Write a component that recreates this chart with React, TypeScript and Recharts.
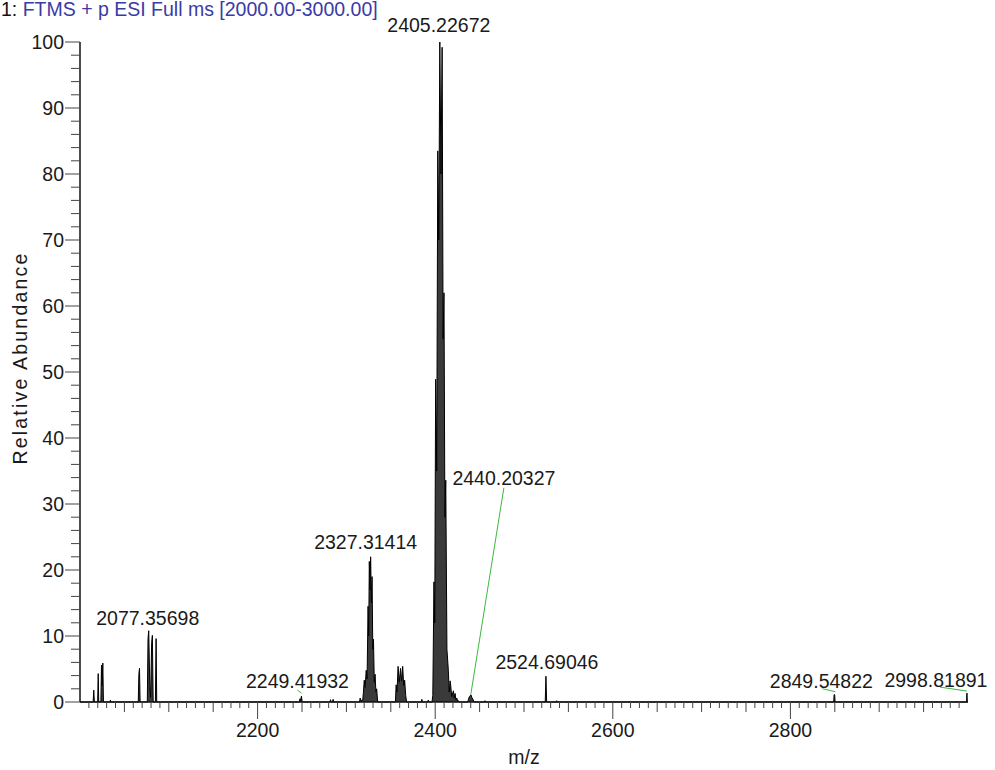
import React from "react";
import { ComposedChart, Area, Scatter, XAxis, YAxis } from "recharts";

// ---- data (m/z, relative abundance) ----
const clusterA_mz = [2000, 2014.8, 2015.5, 2016.2, 2019.9, 2020.5, 2021.1, 2023.5, 2024.2, 2024.9, 2025.7, 2026.4, 2033.8, 2034.3, 2034.8];
const clusterA_int = [0, 0, 1.8, 0, 0, 4.3, 0, 0, 5.6, 2.5, 5.9, 0, 0, 0.3, 0];

const clusterB_mz = [2065.6, 2066.3, 2067.0, 2067.7, 2075.8, 2076.6, 2077.4, 2078.6, 2079.5, 2080.7, 2081.5, 2082.4, 2084.9, 2085.7, 2086.4];
const clusterB_int = [0, 4.2, 5.1, 0, 0, 9.6, 10.8, 2.5, 0.7, 9.0, 10.1, 0, 0, 9.6, 0];

const clusterC_mz = [2247.0, 2247.8, 2248.5, 2249.4, 2250.2, 2281.5, 2282.1, 2282.7, 2284.4, 2285.0, 2285.6];
const clusterC_int = [0, 0.5, 0.2, 0.9, 0, 0, 0.35, 0, 0, 0.4, 0];

const clusterD_mz = [2314.7, 2315.5, 2316.5, 2318.4, 2319.2, 2320.1, 2321.1, 2322.3, 2323.3, 2324.4, 2325.1, 2325.8, 2326.6, 2327.3, 2328.1, 2328.9, 2329.7, 2330.5, 2331.4, 2332.3, 2333.2, 2334.1, 2335.2];
const clusterD_int = [0, 0.6, 0.2, 0.3, 1.5, 3.3, 2.2, 4.8, 3.5, 14.5, 10, 21.3, 17, 22.0, 15, 19.0, 8, 9.5, 3, 4.2, 1.5, 2.0, 0];

const clusterE_mz = [2355.2, 2356.0, 2357.0, 2358.2, 2359.5, 2361.0, 2362.2, 2363.4, 2364.5, 2365.6, 2366.8, 2367.8, 2384.4, 2385.0, 2385.6, 2391.6, 2392.2, 2392.8];
const clusterE_int = [0, 2.6, 1.5, 5.4, 3.0, 5.1, 3.2, 5.4, 2.5, 3.3, 1.0, 0, 0, 0.4, 0, 0, 0.3, 0];

const clusterF_mz = [2396.4, 2397.3, 2398.6, 2399.5, 2400.5, 2401.7, 2402.9, 2404.0, 2405.2, 2406.5, 2407.8, 2408.9, 2409.9, 2410.9, 2411.9, 2413.2, 2414.8, 2415.8, 2416.8, 2417.6, 2418.6, 2420.5, 2421.4, 2422.4, 2423.3, 2424.3, 2425.3, 2426.2, 2427.2];
const clusterF_int = [0, 1.0, 18.2, 12, 48.9, 35, 83.5, 70, 100, 80, 99.2, 55, 62, 28, 33.6, 8, 4.8, 1.5, 3.2, 2.3, 0.8, 1.7, 0.6, 1.3, 0.3, 0.6, 0.1, 0.2, 0];

const clusterG_mz = [2436.6, 2437.5, 2438.4, 2439.3, 2440.2, 2441.3, 2442.5, 2443.6, 2444.6, 2455.5, 2456.0, 2456.5];
const clusterG_int = [0, 0.4, 0.8, 0.9, 1.1, 0.7, 0.4, 0.1, 0, 0, 0.2, 0];

const clusterH_mz = [2523.9, 2524.7, 2525.5, 2536.3, 2536.8, 2537.3, 2848.8, 2849.2, 2849.9, 2850.3, 2998.4, 2998.8, 2999.2, 3000];
const clusterH_int = [0, 3.9, 0, 0, 0.2, 0, 0, 1.1, 1.1, 0, 0, 1.35, 0, 0];

// labelled peaks
const annMz = [2077.4, 2249.4, 2327.3, 2405.2, 2440.2, 2524.7, 2849.5, 2998.8];
const annInt = [10.8, 0.9, 22.0, 100, 1.1, 3.9, 1.1, 1.35];
const annText = ["2077.35698", "2249.41932", "2327.31414", "2405.22672", "2440.20327", "2524.69046", "2849.54822", "2998.81891"];

const yTicks = Array.from({ length: 51 }, (_, i) => i * 2);
const xTicks = Array.from({ length: 99 }, (_, i) => 2010 + i * 10);

const titleNum = "1: ";
const titleText = "FTMS + p ESI Full ms [2000.00-3000.00]";

// ---- layout (pixel offsets of labels relative to their peak) ----
const labelLayout: Record<string, { dx: number; dy: number; lead?: number[] }> = {
  "2077.35698": { dx: -1, dy: -6 },
  "2249.41932": { dx: -4, dy: -8, lead: [-4, -6, 0, -3] },
  "2327.31414": { dx: -5, dy: -8 },
  "2405.22672": { dx: -1, dy: -10 },
  "2440.20327": { dx: 33, dy: -210, lead: [33, -207, 0, -1] },
  "2524.69046": { dx: 1, dy: -7 },
  "2849.54822": { dx: -13, dy: -7, lead: [-12, -6, 1, -3] },
  "2998.81891": { dx: -31, dy: -6, lead: [-27, -6, 0, -2] },
};

const FONT = '"Liberation Sans", Arial, Helvetica, sans-serif';
const FS = 19.5;

const spectrum = [
  [clusterA_mz, clusterA_int],
  [clusterB_mz, clusterB_int],
  [clusterC_mz, clusterC_int],
  [clusterD_mz, clusterD_int],
  [clusterE_mz, clusterE_int],
  [clusterF_mz, clusterF_int],
  [clusterG_mz, clusterG_int],
  [clusterH_mz, clusterH_int],
]
  .flatMap(([m, v]) => m.map((mz, i) => ({ mz, v: v[i] })))
  .sort((a, b) => a.mz - b.mz);

const annotations = annMz.map((mz, i) => ({ mz, v: annInt[i], text: annText[i] }));

const XTick = (props: any) => {
  const { x, y, payload } = props;
  const v = payload.value;
  const len = v % 200 === 0 ? 17 : v % 50 === 0 ? 10 : 6;
  return (
    <g>
      <line x1={x} x2={x} y1={y} y2={y + len} stroke="#444" strokeWidth={1} />
      {v % 200 === 0 && (
        <text x={x} y={y + 35} textAnchor="middle" fontFamily={FONT} fontSize={FS} fill="#1a1a1a">
          {v}
        </text>
      )}
    </g>
  );
};

const YTick = (props: any) => {
  const { x, y, payload } = props;
  const v = payload.value;
  const major = v % 10 === 0;
  const len = major ? 15 : 9;
  return (
    <g>
      <line x1={x - len} x2={x} y1={y} y2={y} stroke="#444" strokeWidth={1} />
      {major && (
        <text x={x - len - 1} y={y} dy="0.36em" textAnchor="end" fontFamily={FONT} fontSize={FS} fill="#1a1a1a">
          {v}
        </text>
      )}
    </g>
  );
};

const AnnShape = (props: any) => {
  const { cx, cy, payload } = props;
  if (cx == null || cy == null || !payload) return <g />;
  const lay = labelLayout[payload.text] || { dx: 0, dy: -6 };
  return (
    <g>
      {lay.lead && (
        <line
          x1={cx + lay.lead[0]}
          y1={cy + lay.lead[1]}
          x2={cx + lay.lead[2]}
          y2={cy + lay.lead[3]}
          stroke="#3cb83c"
          strokeWidth={1}
        />
      )}
      <text x={cx + lay.dx} y={cy + lay.dy} textAnchor="middle" fontFamily={FONT} fontSize={FS} fill="#1a1a1a">
        {payload.text}
      </text>
    </g>
  );
};

export default function App() {
  return (
    <div style={{ position: "absolute", left: 0, top: 0, width: 995, height: 770, background: "#fff" }}>
      <svg width={995} height={40} style={{ position: "absolute", left: 0, top: 0, overflow: "visible" }}>
        <text x={1} y={16} fontFamily={FONT} fontSize={FS}>
          <tspan fill="#111">{titleNum}</tspan>
          <tspan fill="#3b3ba6">{titleText}</tspan>
        </text>
      </svg>
      <div style={{ position: "absolute", left: 0, top: 0 }}>
        <ComposedChart width={995} height={770} data={spectrum} margin={{ top: 42, right: 27, bottom: 0, left: 0 }}>
          <XAxis
            dataKey="mz"
            type="number"
            domain={[2000, 3000]}
            ticks={xTicks}
            interval={0}
            tickLine={false}
            tickSize={0}
            tickMargin={0}
            height={68}
            axisLine={{ stroke: "#111", strokeWidth: 1.5 }}
            tick={(p: any) => <XTick {...p} />}
            label={{
              content: (p: any) => {
                const vb = p.viewBox || {};
                return (
                  <text x={vb.x + vb.width / 2} y={vb.y + 62} textAnchor="middle" fontFamily={FONT} fontSize={FS} fill="#1a1a1a">
                    m/z
                  </text>
                );
              },
            }}
          />
          <YAxis
            type="number"
            domain={[0, 100]}
            ticks={yTicks}
            interval={0}
            width={80}
            tickLine={false}
            tickSize={0}
            tickMargin={0}
            axisLine={{ stroke: "#111", strokeWidth: 1.5 }}
            tick={(p: any) => <YTick {...p} />}
            label={{
              content: (p: any) => {
                const vb = p.viewBox || {};
                const cx = 27;
                const cy = vb.y + vb.height / 2 - 14;
                return (
                  <text x={cx} y={cy} transform={`rotate(-90 ${cx} ${cy})`} textAnchor="middle" fontFamily={FONT} fontSize={FS} letterSpacing={2.2} fill="#1a1a1a">
                    Relative Abundance
                  </text>
                );
              },
            }}
          />
          <Area
            type="linear"
            dataKey="v"
            stroke="#000"
            strokeWidth={1}
            fill="#3a3a3a"
            fillOpacity={1}
            isAnimationActive={false}
            dot={false}
            activeDot={false}
          />
          <Scatter data={annotations} dataKey="v" shape={(p: any) => <AnnShape {...p} />} isAnimationActive={false} />
        </ComposedChart>
      </div>
    </div>
  );
}
